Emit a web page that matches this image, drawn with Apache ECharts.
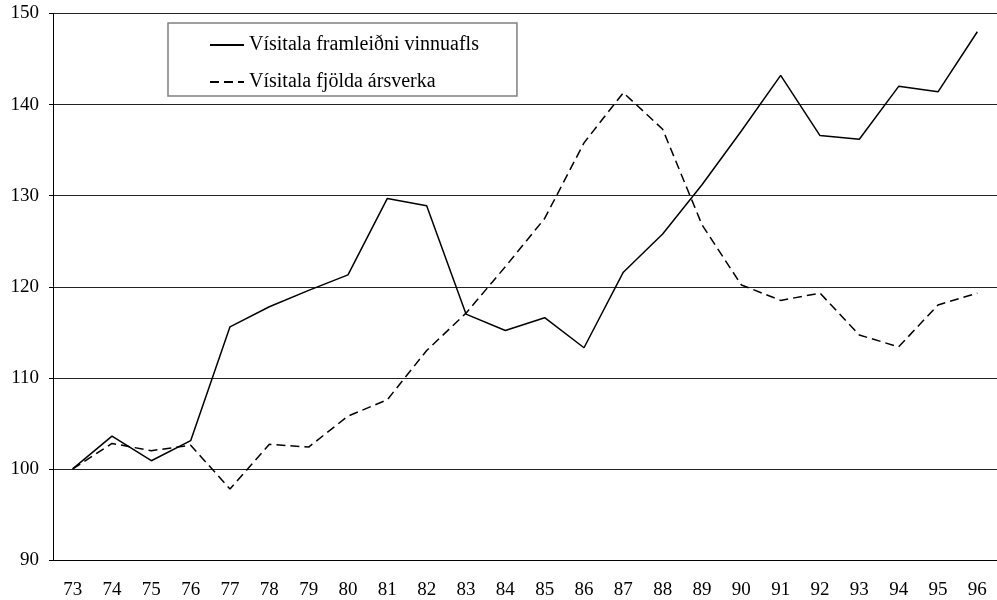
<!DOCTYPE html>
<html>
<head>
<meta charset="utf-8">
<script src="https://cdn.jsdelivr.net/npm/echarts@6/dist/echarts.min.js"></script>
<style>
  html, body { margin: 0; padding: 0; background: #fff; }
  #chart { width: 997px; height: 600px; }
</style>
</head>
<body>
<div id="chart"></div>
<script>
  // ár (flokkar á x-ás)
  const years = ['73','74','75','76','77','78','79','80','81','82','83','84',
                 '85','86','87','88','89','90','91','92','93','94','95','96']
  // Vísitala framleiðni vinnuafls
  const productivity = [100, 103.6, 100.9, 103.1, 115.6, 117.8, 119.6, 121.3, 129.7, 128.9, 117.0, 115.2,
                        116.6, 113.3, 121.6, 125.8, 131.2, 137.1, 143.2, 136.6, 136.2, 142.0, 141.4, 148.0]
  // Vísitala fjölda ársverka
  const manYears = [100, 102.8, 102.0, 102.6, 97.8, 102.7, 102.4, 105.8, 107.6, 113.0, 117.1, 122.2,
                    127.5, 135.8, 141.3, 137.3, 126.8, 120.2, 118.5, 119.3, 114.7, 113.4, 118.0, 119.3]
  const seriesNames = ['Vísitala framleiðni vinnuafls', 'Vísitala fjölda ársverka']

  const font = 'Liberation Serif, Times New Roman, serif'
  const chart = echarts.init(document.getElementById('chart'))

  chart.setOption({
    animation: false,
    backgroundColor: '#fff',
    grid: { left: 53, top: 13.5, bottom: 40, right: -8, containLabel: false },
    legend: {
      data: seriesNames,
      orient: 'vertical',
      left: 168,
      top: 23,
      padding: [12, 38, 4, 41],
      itemWidth: 34,
      itemHeight: 19,
      itemGap: 17,
      borderColor: '#808080',
      borderWidth: 1.5,
      itemStyle: { opacity: 0 },
      textStyle: { fontFamily: font, fontSize: 20, color: '#000' }
    },
    xAxis: {
      type: 'category',
      data: years,
      boundaryGap: true,
      axisLine: { lineStyle: { color: '#000', width: 1 } },
      axisTick: { inside: true, length: 7, lineStyle: { color: '#000' } },
      axisLabel: { fontFamily: font, fontSize: 19, color: '#000', margin: 21 },
      splitLine: { show: false }
    },
    yAxis: {
      type: 'value',
      min: 90,
      max: 150,
      interval: 10,
      axisLine: { show: true, lineStyle: { color: '#000', width: 1 } },
      axisTick: { show: true, length: 4, lineStyle: { color: '#000' } },
      axisLabel: { fontFamily: font, fontSize: 19, color: '#000', margin: 14 },
      splitLine: { lineStyle: { color: '#222', width: 1 } }
    },
    series: [
      {
        name: seriesNames[0],
        type: 'line',
        data: productivity,
        symbol: 'none',
        color: '#000',
        lineStyle: { color: '#000', width: 1.5 }
      },
      {
        name: seriesNames[1],
        type: 'line',
        data: manYears,
        symbol: 'none',
        color: '#000',
        lineStyle: { color: '#000', width: 1.5, type: [9, 5] }
      }
    ]
  })
</script>
</body>
</html>
